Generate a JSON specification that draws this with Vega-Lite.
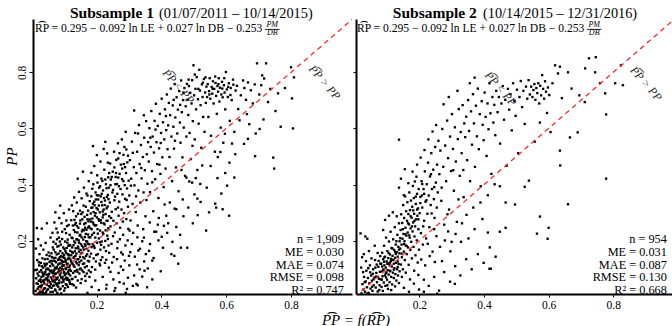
{
"$schema": "https://vega.github.io/schema/vega-lite/v6.json",
"padding": {"left": 4, "top": 5, "right": 0, "bottom": 0},
"background": "white",
"spacing": 0,
"config": {"view": {"stroke": null}, "font": "Liberation Serif", "axis": {"grid": false, "domainColor": "black", "domainWidth": 2, "tickColor": "black", "labelColor": "black", "labelFont": "Liberation Serif", "labelFontSize": 11.5, "titleFont": "Liberation Serif", "titleColor": "black"}},
"title": {"text": "P\u0361P = f(R\u0361P)", "orient": "bottom", "anchor": "middle", "font": "Liberation Serif", "fontStyle": "italic", "fontWeight": "normal", "fontSize": 15, "color": "black", "dx": 17, "offset": 2},
"hconcat": [
{
"width": 319, "height": 275,
"layer": [
{"data": {"values": "x,y\n0.012,0.021\n0.015,0.048\n0.018,0.083\n0.021,0.034\n0.023,0.112\n0.025,0.015\n0.027,0.062\n0.029,0.095\n0.031,0.041\n0.033,0.137\n0.034,0.022\n0.036,0.074\n0.037,0.053\n0.039,0.118\n0.041,0.031\n0.042,0.088\n0.043,0.012\n0.045,0.066\n0.046,0.149\n0.047,0.043\n0.049,0.101\n0.051,0.027\n0.052,0.079\n0.053,0.058\n0.055,0.124\n0.056,0.036\n0.057,0.091\n0.058,0.017\n0.059,0.069\n0.014,0.066\n0.017,0.131\n0.019,0.011\n0.022,0.057\n0.024,0.089\n0.026,0.038\n0.028,0.121\n0.030,0.071\n0.032,0.016\n0.035,0.104\n0.038,0.029\n0.040,0.061\n0.044,0.097\n0.048,0.025\n0.050,0.055\n0.054,0.082\n0.013,0.172\n0.020,0.205\n0.016,0.245\n0.028,0.183\n0.036,0.168\n0.043,0.192\n0.052,0.158\n0.058,0.211\n0.011,0.095\n0.031,0.243\n0.047,0.262\n0.024,0.152\n0.041,0.134\n0.055,0.146\n0.033,0.087\n0.039,0.047\n0.046,0.079\n0.053,0.038\n0.057,0.109\n0.021,0.075\n0.018,0.028\n0.029,0.052\n0.037,0.013\n0.044,0.115\n0.050,0.072\n0.026,0.018\n0.034,0.058\n0.045,0.019\n0.049,0.135\n0.059,0.045\n0.061,0.032\n0.062,0.087\n0.063,0.141\n0.064,0.055\n0.065,0.018\n0.066,0.112\n0.067,0.073\n0.068,0.168\n0.069,0.041\n0.070,0.096\n0.071,0.127\n0.072,0.026\n0.073,0.061\n0.074,0.189\n0.075,0.083\n0.076,0.047\n0.077,0.151\n0.078,0.107\n0.079,0.014\n0.080,0.069\n0.081,0.132\n0.082,0.036\n0.083,0.098\n0.084,0.211\n0.085,0.058\n0.086,0.119\n0.087,0.077\n0.088,0.163\n0.089,0.029\n0.090,0.092\n0.091,0.145\n0.092,0.051\n0.093,0.108\n0.094,0.232\n0.095,0.071\n0.096,0.038\n0.097,0.176\n0.098,0.124\n0.099,0.086\n0.100,0.022\n0.101,0.139\n0.102,0.063\n0.103,0.197\n0.104,0.101\n0.105,0.045\n0.106,0.157\n0.107,0.083\n0.108,0.116\n0.109,0.252\n0.110,0.067\n0.111,0.134\n0.112,0.035\n0.113,0.182\n0.114,0.094\n0.115,0.148\n0.116,0.059\n0.117,0.221\n0.118,0.112\n0.119,0.076\n0.063,0.063\n0.066,0.039\n0.069,0.137\n0.072,0.104\n0.074,0.022\n0.077,0.066\n0.079,0.179\n0.082,0.115\n0.084,0.049\n0.087,0.141\n0.089,0.084\n0.091,0.012\n0.094,0.128\n0.096,0.097\n0.098,0.054\n0.101,0.171\n0.103,0.079\n0.105,0.125\n0.108,0.042\n0.110,0.193\n0.112,0.088\n0.114,0.139\n0.117,0.052\n0.119,0.164\n0.062,0.118\n0.065,0.176\n0.068,0.091\n0.071,0.052\n0.075,0.123\n0.078,0.205\n0.081,0.087\n0.083,0.154\n0.086,0.026\n0.088,0.103\n0.090,0.186\n0.093,0.067\n0.095,0.155\n0.097,0.112\n0.100,0.089\n0.102,0.241\n0.104,0.131\n0.106,0.068\n0.109,0.107\n0.111,0.152\n0.113,0.061\n0.116,0.185\n0.118,0.096\n0.064,0.228\n0.070,0.265\n0.076,0.243\n0.085,0.281\n0.092,0.262\n0.099,0.298\n0.107,0.272\n0.115,0.311\n0.073,0.301\n0.088,0.325\n0.067,0.196\n0.080,0.229\n0.094,0.206\n0.106,0.227\n0.114,0.256\n0.061,0.155\n0.073,0.159\n0.087,0.197\n0.100,0.149\n0.111,0.204\n0.119,0.135\n0.066,0.084\n0.078,0.041\n0.092,0.119\n0.103,0.031\n0.115,0.081\n0.070,0.071\n0.084,0.136\n0.097,0.061\n0.108,0.174\n0.118,0.046\n0.121,0.092\n0.122,0.148\n0.123,0.211\n0.124,0.063\n0.125,0.176\n0.126,0.118\n0.127,0.254\n0.128,0.085\n0.129,0.139\n0.130,0.041\n0.131,0.197\n0.132,0.107\n0.133,0.162\n0.134,0.231\n0.135,0.071\n0.136,0.125\n0.137,0.287\n0.138,0.154\n0.139,0.096\n0.140,0.205\n0.141,0.134\n0.142,0.058\n0.143,0.179\n0.144,0.246\n0.145,0.113\n0.146,0.161\n0.147,0.083\n0.148,0.218\n0.149,0.142\n0.150,0.272\n0.151,0.101\n0.152,0.188\n0.153,0.129\n0.154,0.063\n0.155,0.233\n0.156,0.157\n0.157,0.301\n0.158,0.117\n0.159,0.204\n0.160,0.088\n0.161,0.168\n0.162,0.259\n0.163,0.137\n0.164,0.213\n0.165,0.074\n0.166,0.182\n0.167,0.321\n0.168,0.146\n0.169,0.239\n0.170,0.109\n0.171,0.197\n0.172,0.276\n0.173,0.128\n0.174,0.222\n0.175,0.164\n0.176,0.094\n0.177,0.251\n0.178,0.187\n0.179,0.341\n0.123,0.122\n0.126,0.064\n0.129,0.184\n0.132,0.274\n0.135,0.146\n0.138,0.205\n0.141,0.089\n0.144,0.172\n0.147,0.123\n0.150,0.221\n0.153,0.295\n0.156,0.094\n0.159,0.176\n0.162,0.119\n0.165,0.246\n0.168,0.198\n0.171,0.152\n0.174,0.307\n0.177,0.126\n0.124,0.326\n0.131,0.354\n0.139,0.336\n0.146,0.374\n0.154,0.351\n0.161,0.389\n0.169,0.368\n0.176,0.412\n0.142,0.421\n0.158,0.446\n0.128,0.305\n0.136,0.263\n0.149,0.307\n0.163,0.285\n0.172,0.361\n0.125,0.045\n0.137,0.033\n0.151,0.049\n0.166,0.057\n0.178,0.071\n0.133,0.091\n0.145,0.201\n0.157,0.239\n0.170,0.083\n0.127,0.157\n0.140,0.252\n0.152,0.154\n0.164,0.105\n0.175,0.269\n0.122,0.273\n0.134,0.193\n0.148,0.098\n0.160,0.325\n0.173,0.189\n0.130,0.238\n0.143,0.296\n0.155,0.182\n0.167,0.224\n0.179,0.143\n0.181,0.212\n0.182,0.297\n0.183,0.154\n0.184,0.358\n0.185,0.241\n0.186,0.106\n0.187,0.318\n0.188,0.187\n0.189,0.265\n0.190,0.401\n0.191,0.137\n0.192,0.228\n0.193,0.339\n0.194,0.174\n0.195,0.289\n0.196,0.211\n0.197,0.372\n0.198,0.126\n0.199,0.255\n0.200,0.316\n0.201,0.193\n0.202,0.433\n0.203,0.241\n0.204,0.152\n0.205,0.347\n0.206,0.277\n0.207,0.208\n0.208,0.389\n0.209,0.118\n0.210,0.301\n0.211,0.236\n0.212,0.168\n0.213,0.358\n0.214,0.264\n0.215,0.421\n0.216,0.197\n0.217,0.326\n0.218,0.141\n0.219,0.283\n0.220,0.379\n0.221,0.224\n0.222,0.311\n0.223,0.176\n0.224,0.453\n0.225,0.258\n0.226,0.343\n0.227,0.199\n0.228,0.295\n0.229,0.401\n0.230,0.132\n0.231,0.271\n0.232,0.356\n0.233,0.218\n0.234,0.322\n0.235,0.478\n0.236,0.244\n0.237,0.183\n0.238,0.389\n0.239,0.287\n0.183,0.268\n0.186,0.221\n0.189,0.332\n0.192,0.181\n0.195,0.254\n0.198,0.347\n0.201,0.283\n0.204,0.225\n0.207,0.325\n0.210,0.194\n0.213,0.273\n0.216,0.367\n0.219,0.229\n0.222,0.262\n0.225,0.327\n0.228,0.237\n0.231,0.315\n0.234,0.271\n0.237,0.348\n0.184,0.442\n0.193,0.466\n0.201,0.505\n0.212,0.482\n0.222,0.527\n0.233,0.511\n0.189,0.537\n0.227,0.552\n0.182,0.088\n0.196,0.097\n0.211,0.112\n0.226,0.121\n0.238,0.104\n0.185,0.177\n0.199,0.149\n0.214,0.185\n0.229,0.163\n0.187,0.385\n0.203,0.407\n0.218,0.413\n0.236,0.426\n0.191,0.302\n0.206,0.361\n0.221,0.292\n0.235,0.206\n0.241,0.336\n0.243,0.251\n0.244,0.418\n0.246,0.189\n0.247,0.303\n0.249,0.372\n0.250,0.446\n0.252,0.271\n0.253,0.142\n0.255,0.344\n0.256,0.229\n0.258,0.401\n0.259,0.312\n0.261,0.488\n0.262,0.262\n0.264,0.367\n0.265,0.196\n0.267,0.425\n0.268,0.289\n0.270,0.339\n0.271,0.512\n0.273,0.246\n0.274,0.384\n0.276,0.158\n0.277,0.311\n0.279,0.457\n0.280,0.365\n0.282,0.221\n0.283,0.412\n0.285,0.298\n0.286,0.534\n0.288,0.349\n0.289,0.183\n0.291,0.441\n0.292,0.277\n0.294,0.386\n0.295,0.479\n0.297,0.321\n0.298,0.242\n0.299,0.414\n0.242,0.475\n0.254,0.517\n0.266,0.547\n0.278,0.561\n0.290,0.588\n0.248,0.122\n0.263,0.134\n0.275,0.108\n0.287,0.129\n0.245,0.281\n0.257,0.357\n0.269,0.394\n0.281,0.268\n0.293,0.345\n0.251,0.216\n0.266,0.318\n0.284,0.473\n0.296,0.201\n0.260,0.441\n0.272,0.205\n0.287,0.398\n0.301,0.361\n0.303,0.487\n0.305,0.272\n0.307,0.421\n0.309,0.553\n0.311,0.331\n0.313,0.228\n0.315,0.462\n0.317,0.397\n0.319,0.584\n0.321,0.302\n0.323,0.441\n0.325,0.517\n0.327,0.254\n0.329,0.379\n0.331,0.612\n0.333,0.473\n0.335,0.336\n0.337,0.541\n0.339,0.422\n0.341,0.198\n0.343,0.498\n0.345,0.372\n0.347,0.567\n0.349,0.451\n0.351,0.287\n0.353,0.626\n0.355,0.508\n0.357,0.403\n0.359,0.551\n0.304,0.159\n0.318,0.143\n0.334,0.171\n0.352,0.152\n0.306,0.396\n0.322,0.358\n0.338,0.459\n0.354,0.345\n0.312,0.513\n0.328,0.582\n0.346,0.647\n0.316,0.664\n0.302,0.236\n0.326,0.212\n0.344,0.241\n0.361,0.482\n0.363,0.601\n0.365,0.373\n0.367,0.534\n0.369,0.662\n0.371,0.448\n0.373,0.571\n0.375,0.305\n0.377,0.514\n0.379,0.627\n0.381,0.419\n0.383,0.688\n0.385,0.551\n0.387,0.473\n0.389,0.609\n0.391,0.352\n0.393,0.529\n0.395,0.652\n0.397,0.438\n0.399,0.584\n0.401,0.706\n0.403,0.497\n0.405,0.622\n0.407,0.391\n0.409,0.561\n0.411,0.668\n0.413,0.457\n0.415,0.594\n0.417,0.721\n0.419,0.526\n0.364,0.265\n0.378,0.232\n0.392,0.281\n0.408,0.253\n0.366,0.567\n0.382,0.596\n0.398,0.548\n0.414,0.644\n0.372,0.408\n0.394,0.471\n0.421,0.611\n0.423,0.691\n0.425,0.498\n0.427,0.647\n0.429,0.742\n0.431,0.571\n0.433,0.412\n0.435,0.682\n0.437,0.606\n0.439,0.528\n0.441,0.758\n0.443,0.639\n0.445,0.461\n0.447,0.711\n0.449,0.582\n0.451,0.667\n0.453,0.376\n0.455,0.733\n0.457,0.621\n0.459,0.549\n0.461,0.771\n0.463,0.658\n0.465,0.497\n0.467,0.701\n0.469,0.603\n0.471,0.744\n0.473,0.431\n0.475,0.679\n0.477,0.571\n0.479,0.759\n0.426,0.336\n0.446,0.312\n0.466,0.347\n0.438,0.702\n0.458,0.684\n0.442,0.556\n0.462,0.452\n0.481,0.702\n0.483,0.648\n0.485,0.751\n0.487,0.584\n0.489,0.727\n0.491,0.491\n0.493,0.689\n0.495,0.772\n0.497,0.626\n0.499,0.825\n0.501,0.718\n0.503,0.561\n0.505,0.741\n0.507,0.668\n0.509,0.783\n0.511,0.452\n0.513,0.704\n0.515,0.617\n0.517,0.809\n0.519,0.735\n0.521,0.683\n0.523,0.531\n0.525,0.757\n0.527,0.712\n0.529,0.641\n0.531,0.776\n0.533,0.588\n0.535,0.728\n0.537,0.691\n0.539,0.749\n0.486,0.411\n0.506,0.423\n0.526,0.468\n0.496,0.538\n0.541,0.712\n0.543,0.758\n0.545,0.641\n0.547,0.733\n0.549,0.779\n0.551,0.706\n0.553,0.574\n0.555,0.748\n0.557,0.724\n0.559,0.768\n0.561,0.689\n0.563,0.741\n0.565,0.517\n0.567,0.762\n0.569,0.716\n0.571,0.652\n0.573,0.751\n0.575,0.731\n0.577,0.779\n0.579,0.696\n0.581,0.745\n0.583,0.603\n0.585,0.721\n0.587,0.766\n0.589,0.711\n0.591,0.549\n0.593,0.754\n0.595,0.728\n0.597,0.668\n0.599,0.801\n0.602,0.739\n0.605,0.712\n0.608,0.761\n0.611,0.627\n0.614,0.744\n0.617,0.701\n0.621,0.774\n0.625,0.588\n0.629,0.735\n0.633,0.752\n0.637,0.669\n0.641,0.629\n0.645,0.718\n0.552,0.466\n0.574,0.498\n0.596,0.581\n0.618,0.546\n0.652,0.771\n0.656,0.744\n0.661,0.702\n0.667,0.764\n0.671,0.615\n0.676,0.736\n0.682,0.689\n0.688,0.757\n0.695,0.832\n0.702,0.721\n0.708,0.754\n0.711,0.789\n0.717,0.778\n0.723,0.832\n0.729,0.694\n0.736,0.741\n0.745,0.496\n0.748,0.457\n0.752,0.662\n0.760,0.725\n0.768,0.606\n0.781,0.744\n0.800,0.818\n0.803,0.707\n0.806,0.600\n0.809,0.782\n0.664,0.651\n0.691,0.582\n0.715,0.632\n0.252,0.062\n0.268,0.085\n0.284,0.047\n0.301,0.112\n0.316,0.076\n0.333,0.098\n0.347,0.126\n0.362,0.164\n0.376,0.138\n0.391,0.201\n0.405,0.175\n0.418,0.228\n0.434,0.196\n0.446,0.249\n0.458,0.221\n0.460,0.175\n0.480,0.175\n0.483,0.318\n0.497,0.262\n0.512,0.291\n0.538,0.236\n0.609,0.289\n0.547,0.301\n0.521,0.338\n0.566,0.332\n0.589,0.312\n0.431,0.152\n0.452,0.118\n0.398,0.091\n0.372,0.062\n0.327,0.041\n0.294,0.028\n0.356,0.034\n0.415,0.289\n0.441,0.314\n0.389,0.257\n0.502,0.365\n0.468,0.287\n0.520,0.402\n0.540,0.389\n0.573,0.423\n0.597,0.441\n0.610,0.478\n0.582,0.516\n0.628,0.508\n0.655,0.545\n0.667,0.563\n0.689,0.501\n0.703,0.598\n0.185,0.035\n0.196,0.058\n0.207,0.024\n0.219,0.071\n0.231,0.043\n0.243,0.089\n0.258,0.031\n0.271,0.052\n0.282,0.096\n0.297,0.068\n0.312,0.039\n0.325,0.115\n0.341,0.072\n0.358,0.101\n0.172,0.014\n0.230,0.029\n0.255,0.021\n0.290,0.014\n0.323,0.046\n0.348,0.093\n0.372,0.129\n0.440,0.146\n0.300,0.146\n0.213,0.131\n0.239,0.157\n0.264,0.173\n0.281,0.151\n0.309,0.188\n0.329,0.165\n0.346,0.211\n0.365,0.188\n0.384,0.232\n0.401,0.214\n0.421,0.262\n0.410,0.329\n0.477,0.425\n0.495,0.407\n0.603,0.396\n0.625,0.425\n0.585,0.368\n0.511,0.350\n0.569,0.318\n0.035,0.081\n0.041,0.109\n0.048,0.062\n0.052,0.097\n0.056,0.052\n0.061,0.094\n0.064,0.128\n0.067,0.058\n0.071,0.082\n0.073,0.139\n0.076,0.101\n0.078,0.063\n0.081,0.048\n0.083,0.181\n0.086,0.092\n0.089,0.131\n0.091,0.069\n0.094,0.098\n0.096,0.141\n0.099,0.112\n0.102,0.077\n0.104,0.163\n0.106,0.099\n0.109,0.061\n0.111,0.118\n0.113,0.151\n0.116,0.105\n0.119,0.183\n0.121,0.127\n0.124,0.159\n0.126,0.209\n0.129,0.112\n0.131,0.142\n0.134,0.257\n0.136,0.173\n0.139,0.119\n0.141,0.229\n0.144,0.134\n0.146,0.193\n0.149,0.261\n0.151,0.167\n0.154,0.212\n0.156,0.276\n0.159,0.141\n0.161,0.237\n0.164,0.187\n0.166,0.263\n0.169,0.171\n0.171,0.292\n0.174,0.247\n0.176,0.212\n0.179,0.276\n0.181,0.244\n0.184,0.317\n0.187,0.279\n0.191,0.258\n0.194,0.326\n0.197,0.298\n0.201,0.362\n0.204,0.311\n0.208,0.271\n0.211,0.394\n0.215,0.338\n0.219,0.304\n0.223,0.352\n0.227,0.418\n0.231,0.387\n0.235,0.363\n0.239,0.441\n0.243,0.398\n0.247,0.427\n0.251,0.381\n0.255,0.461\n0.259,0.427\n0.263,0.402\n0.267,0.493\n0.271,0.438\n0.275,0.471\n0.279,0.419\n0.283,0.506\n0.288,0.462\n0.292,0.525\n0.297,0.503\n0.058,0.128\n0.062,0.142\n0.047,0.118\n0.039,0.082\n0.029,0.036\n0.031,0.109\n0.025,0.057\n0.019,0.046\n0.016,0.097\n0.022,0.123\n0.468,0.728\n0.484,0.774\n0.503,0.792\n0.514,0.741\n0.528,0.763\n0.536,0.782\n0.548,0.721\n0.558,0.741\n0.566,0.785\n0.576,0.758\n0.588,0.742\n0.594,0.779\n0.606,0.748\n0.613,0.719\n0.622,0.756", "format": {"type": "csv", "parse": {"x": "number", "y": "number"}}},
 "mark": {"type": "square", "size": 5.5, "color": "black", "opacity": 1},
 "encoding": {
  "x": {"field": "x", "type": "quantitative", "scale": {"domain": [0.004, 0.988], "nice": false, "zero": false}, "axis": {"values": [0.2, 0.4, 0.6, 0.8], "format": ".1f", "title": null, "tickSize": 3, "labelPadding": 2}},
  "y": {"field": "y", "type": "quantitative", "scale": {"domain": [0.01, 0.99], "nice": false, "zero": false}, "axis": {"values": [0.2, 0.4, 0.6, 0.8], "format": ".1f", "labelAngle": 270, "tickSize": 4, "labelPadding": 2, "title": "PP", "titleFontStyle": "italic", "titleFontWeight": "normal", "titleFontSize": 15, "titleAngle": 270, "titleX": -14, "titleY": 137}}
 }},
{"data": {"values": [{"v": 0}, {"v": 1}]}, "mark": {"type": "line", "color": "#ff2a2a", "strokeDash": [5, 4], "strokeWidth": 1.3, "clip": true}, "encoding": {"x": {"field": "v", "type": "quantitative"}, "y": {"field": "v", "type": "quantitative"}}},
{"data": {"values": [{}]}, "mark": {"type": "text", "text": "Subsample 1", "font": "Liberation Serif", "fontWeight": "bold", "fontSize": 15.5, "align": "right", "baseline": "alphabetic", "color": "black"}, "encoding": {"x": {"datum": 0.377}, "y": {"datum": 0.9946}}},
{"data": {"values": [{}]}, "mark": {"type": "text", "text": "(01/07/2011 \u2013 10/14/2015)", "font": "Liberation Serif", "fontSize": 14.3, "align": "left", "baseline": "alphabetic", "color": "black"}, "encoding": {"x": {"datum": 0.393}, "y": {"datum": 0.9946}}},
{"data": {"values": [{}]}, "mark": {"type": "text", "text": "R\u0361P = 0.295 \u2212 0.092 ln LE + 0.027 ln DB \u2212 0.253", "font": "Liberation Serif", "fontSize": 11.6, "align": "left", "baseline": "alphabetic", "color": "black"}, "encoding": {"x": {"datum": 0.01}, "y": {"datum": 0.944}}},
{"data": {"values": [{}]}, "mark": {"type": "text", "text": "PM", "font": "Liberation Serif", "fontStyle": "italic", "fontSize": 8, "align": "center", "baseline": "alphabetic", "color": "black"}, "encoding": {"x": {"datum": 0.742}, "y": {"datum": 0.960}}},
{"data": {"values": [{}]}, "mark": {"type": "text", "text": "DB", "font": "Liberation Serif", "fontStyle": "italic", "fontSize": 8, "align": "center", "baseline": "alphabetic", "color": "black"}, "encoding": {"x": {"datum": 0.742}, "y": {"datum": 0.933}}},
{"data": {"values": [{}]}, "mark": {"type": "rule", "color": "black", "strokeWidth": 0.8}, "encoding": {"x": {"datum": 0.719}, "x2": {"datum": 0.765}, "y": {"datum": 0.953}}},
{"data": {"values": [{}]}, "mark": {"type": "text", "text": "P\u0361P < PP", "font": "Liberation Serif", "fontStyle": "italic", "fontSize": 11.5, "angle": 49, "align": "center", "baseline": "middle", "color": "#222"}, "encoding": {"x": {"datum": 0.451}, "y": {"datum": 0.748}}},
{"data": {"values": [{}]}, "mark": {"type": "text", "text": "P\u0361P > PP", "font": "Liberation Serif", "fontStyle": "italic", "fontSize": 11.5, "angle": 49, "align": "center", "baseline": "middle", "color": "#222"}, "encoding": {"x": {"datum": 0.902}, "y": {"datum": 0.762}}},
{"data": {"values": [{}]}, "mark": {"type": "text", "text": "n = 1,909", "font": "Liberation Serif", "fontSize": 12.3, "align": "right", "baseline": "middle", "color": "black"}, "encoding": {"x": {"datum": 0.963}, "y": {"datum": 0.207}}},
{"data": {"values": [{}]}, "mark": {"type": "text", "text": "ME = 0.030", "font": "Liberation Serif", "fontSize": 12.3, "align": "right", "baseline": "middle", "color": "black"}, "encoding": {"x": {"datum": 0.963}, "y": {"datum": 0.161}}},
{"data": {"values": [{}]}, "mark": {"type": "text", "text": "MAE = 0.074", "font": "Liberation Serif", "fontSize": 12.3, "align": "right", "baseline": "middle", "color": "black"}, "encoding": {"x": {"datum": 0.963}, "y": {"datum": 0.115}}},
{"data": {"values": [{}]}, "mark": {"type": "text", "text": "RMSE = 0.098", "font": "Liberation Serif", "fontSize": 12.3, "align": "right", "baseline": "middle", "color": "black"}, "encoding": {"x": {"datum": 0.963}, "y": {"datum": 0.069}}},
{"data": {"values": [{}]}, "mark": {"type": "text", "text": "R\u00b2 = 0.747", "font": "Liberation Serif", "fontSize": 12.3, "align": "right", "baseline": "middle", "color": "black"}, "encoding": {"x": {"datum": 0.963}, "y": {"datum": 0.023}}}
]
},
{
"width": 318, "height": 275,
"layer": [
{"data": {"values": "x,y\n0.021,0.012\n0.024,0.045\n0.027,0.026\n0.029,0.071\n0.032,0.018\n0.034,0.055\n0.036,0.093\n0.038,0.034\n0.041,0.067\n0.043,0.014\n0.045,0.048\n0.047,0.112\n0.049,0.029\n0.051,0.076\n0.053,0.057\n0.055,0.021\n0.057,0.098\n0.059,0.041\n0.061,0.069\n0.063,0.131\n0.065,0.033\n0.067,0.085\n0.069,0.052\n0.071,0.019\n0.073,0.107\n0.075,0.064\n0.077,0.041\n0.079,0.145\n0.026,0.088\n0.035,0.127\n0.044,0.163\n0.052,0.137\n0.062,0.182\n0.071,0.156\n0.078,0.089\n0.031,0.052\n0.048,0.087\n0.058,0.062\n0.068,0.115\n0.076,0.024\n0.039,0.011\n0.054,0.036\n0.066,0.072\n0.074,0.128\n0.042,0.102\n0.023,0.141\n0.018,0.226\n0.033,0.215\n0.028,0.152\n0.039,0.207\n0.020,0.104\n0.081,0.062\n0.082,0.118\n0.083,0.035\n0.084,0.091\n0.085,0.157\n0.086,0.073\n0.087,0.021\n0.088,0.134\n0.089,0.097\n0.090,0.051\n0.091,0.182\n0.092,0.112\n0.093,0.076\n0.094,0.143\n0.095,0.039\n0.096,0.104\n0.097,0.211\n0.098,0.087\n0.099,0.126\n0.100,0.061\n0.101,0.163\n0.102,0.095\n0.103,0.028\n0.104,0.138\n0.105,0.079\n0.106,0.197\n0.107,0.115\n0.108,0.052\n0.109,0.151\n0.110,0.093\n0.111,0.232\n0.112,0.127\n0.113,0.071\n0.114,0.174\n0.115,0.108\n0.116,0.044\n0.117,0.146\n0.118,0.086\n0.119,0.205\n0.120,0.131\n0.121,0.067\n0.122,0.167\n0.123,0.102\n0.124,0.248\n0.125,0.139\n0.126,0.081\n0.127,0.186\n0.128,0.121\n0.129,0.058\n0.130,0.159\n0.131,0.098\n0.132,0.221\n0.133,0.143\n0.134,0.076\n0.135,0.178\n0.136,0.117\n0.137,0.262\n0.138,0.155\n0.139,0.091\n0.085,0.108\n0.091,0.125\n0.097,0.069\n0.103,0.118\n0.109,0.122\n0.115,0.132\n0.121,0.118\n0.127,0.153\n0.133,0.106\n0.139,0.198\n0.094,0.274\n0.106,0.289\n0.118,0.301\n0.130,0.287\n0.088,0.238\n0.101,0.041\n0.113,0.024\n0.125,0.037\n0.137,0.049\n0.141,0.172\n0.142,0.238\n0.143,0.115\n0.144,0.294\n0.145,0.186\n0.146,0.141\n0.147,0.263\n0.148,0.207\n0.149,0.098\n0.150,0.327\n0.151,0.224\n0.152,0.161\n0.153,0.281\n0.154,0.198\n0.155,0.131\n0.156,0.358\n0.157,0.246\n0.158,0.183\n0.159,0.305\n0.160,0.218\n0.161,0.152\n0.162,0.271\n0.163,0.337\n0.164,0.229\n0.165,0.176\n0.166,0.295\n0.167,0.114\n0.168,0.258\n0.169,0.372\n0.170,0.211\n0.171,0.309\n0.172,0.167\n0.173,0.244\n0.174,0.343\n0.175,0.196\n0.176,0.282\n0.177,0.137\n0.178,0.321\n0.179,0.233\n0.180,0.395\n0.181,0.265\n0.182,0.178\n0.183,0.352\n0.184,0.296\n0.185,0.215\n0.186,0.411\n0.187,0.251\n0.188,0.148\n0.189,0.331\n0.190,0.276\n0.191,0.428\n0.192,0.201\n0.193,0.367\n0.194,0.289\n0.195,0.122\n0.196,0.315\n0.197,0.241\n0.198,0.384\n0.199,0.168\n0.146,0.071\n0.158,0.086\n0.171,0.062\n0.184,0.093\n0.197,0.078\n0.152,0.362\n0.166,0.405\n0.179,0.446\n0.193,0.471\n0.143,0.421\n0.137,0.389\n0.155,0.455\n0.201,0.298\n0.203,0.356\n0.205,0.227\n0.207,0.412\n0.209,0.318\n0.211,0.186\n0.213,0.384\n0.215,0.271\n0.217,0.447\n0.219,0.339\n0.221,0.208\n0.223,0.401\n0.225,0.296\n0.227,0.478\n0.229,0.361\n0.231,0.248\n0.233,0.429\n0.235,0.327\n0.237,0.512\n0.239,0.384\n0.241,0.161\n0.243,0.453\n0.245,0.348\n0.247,0.281\n0.249,0.534\n0.251,0.407\n0.253,0.216\n0.255,0.471\n0.257,0.372\n0.259,0.556\n0.206,0.133\n0.218,0.112\n0.232,0.145\n0.248,0.124\n0.204,0.496\n0.216,0.523\n0.228,0.561\n0.241,0.589\n0.252,0.612\n0.212,0.251\n0.226,0.189\n0.238,0.297\n0.254,0.318\n0.208,0.361\n0.222,0.344\n0.236,0.437\n0.246,0.391\n0.262,0.437\n0.265,0.521\n0.268,0.342\n0.271,0.598\n0.274,0.463\n0.277,0.257\n0.280,0.539\n0.283,0.412\n0.286,0.628\n0.289,0.494\n0.292,0.311\n0.295,0.571\n0.298,0.448\n0.301,0.651\n0.304,0.527\n0.307,0.378\n0.310,0.604\n0.313,0.482\n0.316,0.267\n0.319,0.562\n0.322,0.669\n0.325,0.431\n0.328,0.587\n0.331,0.512\n0.334,0.683\n0.337,0.355\n0.339,0.618\n0.264,0.178\n0.279,0.201\n0.296,0.162\n0.312,0.224\n0.329,0.196\n0.269,0.389\n0.287,0.294\n0.305,0.451\n0.321,0.347\n0.336,0.452\n0.275,0.686\n0.291,0.712\n0.318,0.734\n0.342,0.569\n0.345,0.642\n0.348,0.487\n0.351,0.701\n0.354,0.591\n0.357,0.412\n0.360,0.661\n0.363,0.542\n0.366,0.722\n0.369,0.618\n0.372,0.463\n0.375,0.681\n0.378,0.572\n0.381,0.742\n0.384,0.526\n0.387,0.651\n0.390,0.394\n0.393,0.697\n0.396,0.613\n0.399,0.558\n0.402,0.728\n0.405,0.641\n0.408,0.502\n0.411,0.689\n0.414,0.597\n0.417,0.761\n0.420,0.654\n0.423,0.438\n0.426,0.712\n0.429,0.621\n0.432,0.684\n0.435,0.576\n0.438,0.734\n0.346,0.292\n0.367,0.318\n0.389,0.336\n0.412,0.362\n0.433,0.401\n0.356,0.761\n0.371,0.781\n0.442,0.658\n0.446,0.712\n0.450,0.546\n0.454,0.689\n0.458,0.751\n0.462,0.631\n0.466,0.702\n0.470,0.467\n0.474,0.741\n0.478,0.667\n0.482,0.722\n0.486,0.593\n0.490,0.761\n0.494,0.698\n0.498,0.645\n0.502,0.738\n0.506,0.512\n0.510,0.712\n0.514,0.769\n0.518,0.676\n0.522,0.734\n0.526,0.616\n0.530,0.749\n0.534,0.706\n0.538,0.772\n0.449,0.394\n0.467,0.246\n0.449,0.232\n0.412,0.229\n0.417,0.100\n0.421,0.100\n0.496,0.329\n0.467,0.336\n0.539,0.414\n0.526,0.392\n0.542,0.721\n0.546,0.749\n0.550,0.712\n0.553,0.737\n0.556,0.758\n0.559,0.702\n0.562,0.744\n0.565,0.726\n0.568,0.761\n0.571,0.689\n0.574,0.752\n0.577,0.718\n0.580,0.790\n0.583,0.741\n0.586,0.706\n0.589,0.768\n0.592,0.731\n0.595,0.655\n0.598,0.746\n0.602,0.719\n0.606,0.587\n0.612,0.761\n0.620,0.825\n0.629,0.796\n0.635,0.820\n0.635,0.521\n0.636,0.468\n0.641,0.708\n0.573,0.286\n0.600,0.246\n0.564,0.225\n0.597,0.207\n0.573,0.621\n0.557,0.553\n0.660,0.800\n0.660,0.330\n0.666,0.568\n0.690,0.586\n0.713,0.814\n0.725,0.850\n0.744,0.800\n0.746,0.854\n0.759,0.761\n0.775,0.725\n0.778,0.650\n0.778,0.421\n0.806,0.761\n0.824,0.825\n0.830,0.754\n0.671,0.742\n0.695,0.718\n0.712,0.694\n0.152,0.032\n0.168,0.018\n0.183,0.047\n0.199,0.026\n0.214,0.061\n0.229,0.039\n0.246,0.071\n0.261,0.022\n0.277,0.088\n0.295,0.054\n0.311,0.109\n0.327,0.076\n0.345,0.134\n0.362,0.098\n0.381,0.152\n0.399,0.121\n0.418,0.176\n0.436,0.143\n0.214,0.018\n0.255,0.011\n0.310,0.046\n0.352,0.208\n0.371,0.241\n0.395,0.277\n0.332,0.262\n0.289,0.233\n0.270,0.127\n0.246,0.241\n0.300,0.196\n0.137,0.560\n0.056,0.082\n0.064,0.104\n0.072,0.071\n0.079,0.118\n0.084,0.061\n0.088,0.096\n0.092,0.141\n0.096,0.083\n0.101,0.118\n0.105,0.156\n0.109,0.091\n0.113,0.135\n0.117,0.172\n0.121,0.097\n0.125,0.161\n0.129,0.198\n0.133,0.126\n0.137,0.168\n0.141,0.209\n0.145,0.154\n0.149,0.241\n0.153,0.188\n0.157,0.223\n0.161,0.181\n0.165,0.262\n0.169,0.219\n0.173,0.287\n0.177,0.251\n0.181,0.308\n0.185,0.271\n0.189,0.357\n0.193,0.311\n0.197,0.276\n0.203,0.334\n0.209,0.402\n0.215,0.367", "format": {"type": "csv", "parse": {"x": "number", "y": "number"}}},
 "mark": {"type": "square", "size": 5.5, "color": "black", "opacity": 1},
 "encoding": {
  "x": {"field": "x", "type": "quantitative", "scale": {"domain": [0.004, 0.988], "nice": false, "zero": false}, "axis": {"values": [0.2, 0.4, 0.6, 0.8], "format": ".1f", "title": null, "tickSize": 3, "labelPadding": 2}},
  "y": {"field": "y", "type": "quantitative", "scale": {"domain": [0.01, 0.99], "nice": false, "zero": false}, "axis": {"values": [0.2, 0.4, 0.6, 0.8], "labels": false, "tickSize": 3, "title": null}}
 }},
{"data": {"values": [{"v": 0}, {"v": 1}]}, "mark": {"type": "line", "color": "#ff2a2a", "strokeDash": [5, 4], "strokeWidth": 1.3, "clip": true}, "encoding": {"x": {"field": "v", "type": "quantitative"}, "y": {"field": "v", "type": "quantitative"}}},
{"data": {"values": [{}]}, "mark": {"type": "text", "text": "Subsample 2", "font": "Liberation Serif", "fontWeight": "bold", "fontSize": 15.5, "align": "right", "baseline": "alphabetic", "color": "black"}, "encoding": {"x": {"datum": 0.378}, "y": {"datum": 0.9946}}},
{"data": {"values": [{}]}, "mark": {"type": "text", "text": "(10/14/2015 \u2013 12/31/2016)", "font": "Liberation Serif", "fontSize": 14.3, "align": "left", "baseline": "alphabetic", "color": "black"}, "encoding": {"x": {"datum": 0.397}, "y": {"datum": 0.9946}}},
{"data": {"values": [{}]}, "mark": {"type": "text", "text": "R\u0361P = 0.295 \u2212 0.092 ln LE + 0.027 ln DB \u2212 0.253", "font": "Liberation Serif", "fontSize": 11.6, "align": "left", "baseline": "alphabetic", "color": "black"}, "encoding": {"x": {"datum": 0.007}, "y": {"datum": 0.944}}},
{"data": {"values": [{}]}, "mark": {"type": "text", "text": "PM", "font": "Liberation Serif", "fontStyle": "italic", "fontSize": 8, "align": "center", "baseline": "alphabetic", "color": "black"}, "encoding": {"x": {"datum": 0.741}, "y": {"datum": 0.960}}},
{"data": {"values": [{}]}, "mark": {"type": "text", "text": "DB", "font": "Liberation Serif", "fontStyle": "italic", "fontSize": 8, "align": "center", "baseline": "alphabetic", "color": "black"}, "encoding": {"x": {"datum": 0.741}, "y": {"datum": 0.933}}},
{"data": {"values": [{}]}, "mark": {"type": "rule", "color": "black", "strokeWidth": 0.8}, "encoding": {"x": {"datum": 0.718}, "x2": {"datum": 0.764}, "y": {"datum": 0.953}}},
{"data": {"values": [{}]}, "mark": {"type": "text", "text": "P\u0361P < PP", "font": "Liberation Serif", "fontStyle": "italic", "fontSize": 11.5, "angle": 49, "align": "center", "baseline": "middle", "color": "#222"}, "encoding": {"x": {"datum": 0.45}, "y": {"datum": 0.74}}},
{"data": {"values": [{}]}, "mark": {"type": "text", "text": "P\u0361P > PP", "font": "Liberation Serif", "fontStyle": "italic", "fontSize": 11.5, "angle": 49, "align": "center", "baseline": "middle", "color": "#222"}, "encoding": {"x": {"datum": 0.9}, "y": {"datum": 0.758}}},
{"data": {"values": [{}]}, "mark": {"type": "text", "text": "n = 954", "font": "Liberation Serif", "fontSize": 12.3, "align": "right", "baseline": "middle", "color": "black"}, "encoding": {"x": {"datum": 0.966}, "y": {"datum": 0.207}}},
{"data": {"values": [{}]}, "mark": {"type": "text", "text": "ME = 0.031", "font": "Liberation Serif", "fontSize": 12.3, "align": "right", "baseline": "middle", "color": "black"}, "encoding": {"x": {"datum": 0.966}, "y": {"datum": 0.161}}},
{"data": {"values": [{}]}, "mark": {"type": "text", "text": "MAE = 0.087", "font": "Liberation Serif", "fontSize": 12.3, "align": "right", "baseline": "middle", "color": "black"}, "encoding": {"x": {"datum": 0.966}, "y": {"datum": 0.115}}},
{"data": {"values": [{}]}, "mark": {"type": "text", "text": "RMSE = 0.130", "font": "Liberation Serif", "fontSize": 12.3, "align": "right", "baseline": "middle", "color": "black"}, "encoding": {"x": {"datum": 0.966}, "y": {"datum": 0.069}}},
{"data": {"values": [{}]}, "mark": {"type": "text", "text": "R\u00b2 = 0.668", "font": "Liberation Serif", "fontSize": 12.3, "align": "right", "baseline": "middle", "color": "black"}, "encoding": {"x": {"datum": 0.966}, "y": {"datum": 0.023}}}
]
}
]
}
